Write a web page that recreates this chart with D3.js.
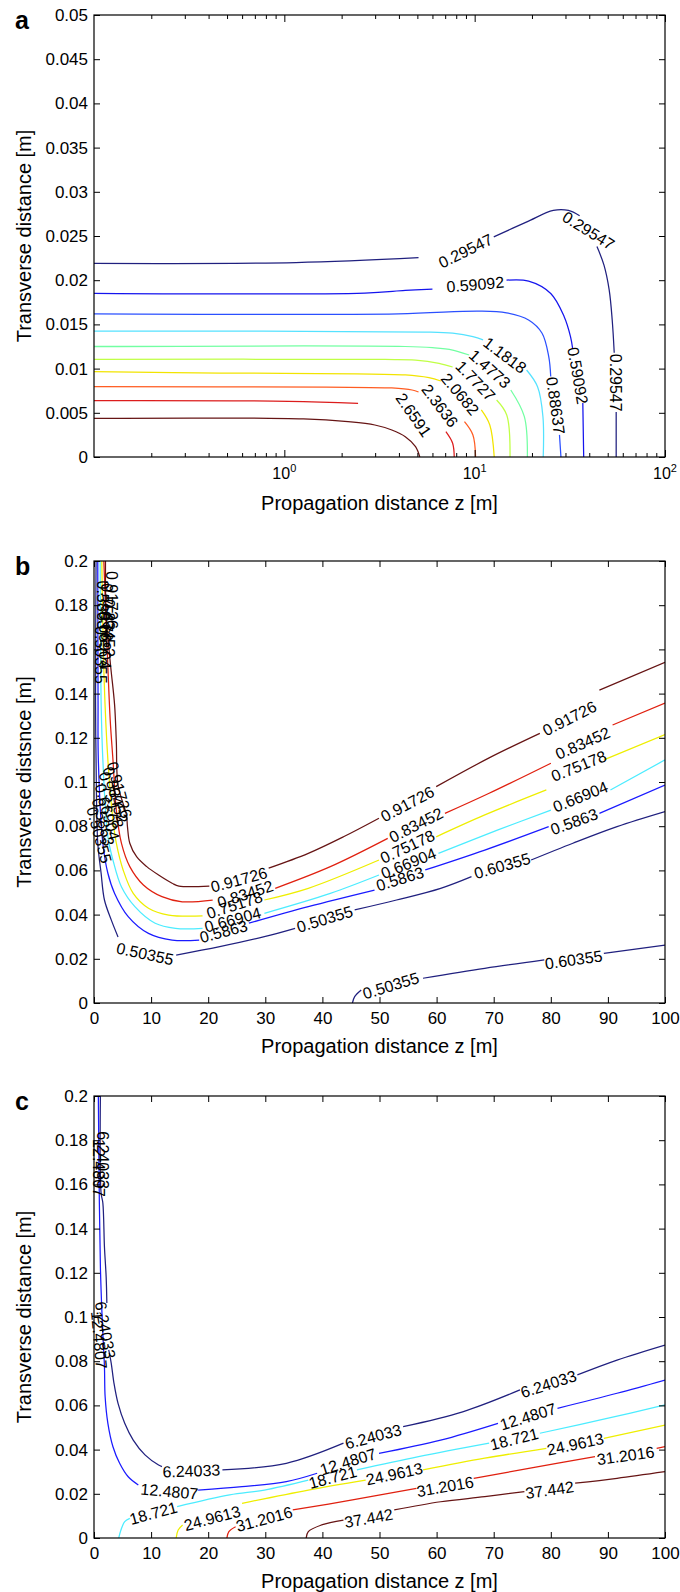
<!DOCTYPE html>
<html>
<head>
<meta charset="utf-8">
<script src="https://cdn.jsdelivr.net/npm/d3@7"></script>
<style>
  body { margin: 0; background: #fff; }
  svg text { font-family: "Liberation Sans", Arial, sans-serif; fill: #000; }
</style>
</head>
<body>
<svg id="chart" width="680" height="1592"></svg>
<script>
// ---------- panel a (log z) ----------
const levelsA = ["0.29547", "0.59092", "0.88637", "1.1818", "1.4773", "1.7727", "2.0682", "2.3636", "2.6591", "2.9545"];
// each contour: [z, y] points, null = gap left for an inline label
const contoursA = [
  [[0.1, 0.0219], [1.15, 0.0220], [5.07, 0.02255], null, [12.6, 0.0249], [18.8, 0.0266], [25.9, 0.0279], [31.1, 0.0279], [35.6, 0.0273], null,
   [43.9, 0.0238], [47.8, 0.0217], [50.9, 0.0189], [52.8, 0.0155], [54.1, 0.0118], null, [55.4, 0.0051], [55.4, 0]],
  [[0.1, 0.01852], [2.65, 0.01855], [4.32, 0.01885], [6.0, 0.0190], null, [14.7, 0.0200], [19.2, 0.0199], [25.1, 0.0185], [29.5, 0.0159],
   [31.9, 0.0136], [32.7, 0.0123], null, [37.0, 0.0061], [37.4, 0]],
  [[0.1, 0.0162], [3.97, 0.0162], [10.6, 0.0165], [14.7, 0.0163], [19.2, 0.0155], [22.6, 0.0140], [24.5, 0.01135], [25.1, 0.0091], null,
   [27.9, 0.0025], [28.4, 0]],
  [[0.1, 0.01425], [5.5, 0.01414], [7.66, 0.0140], [9.79, 0.01361], [11.07, 0.01324], null, [18.74, 0.00984], [21.4, 0.00795], [22.84, 0.00456], [22.92, 0]],
  [[0.1, 0.0125], [4.32, 0.0125], [6.0, 0.01236], [7.66, 0.0121], [9.36, 0.01154], null, [15.48, 0.00758], [18.24, 0.00456], [18.92, 0]],
  [[0.1, 0.01105], [3.38, 0.01103], [4.89, 0.01097], [6.5, 0.0106], [7.66, 0.01018], null, [13.04, 0.00645], [14.74, 0.00475], [15.34, 0]],
  [[0.1, 0.00965], [0.46, 0.0095], [4.32, 0.00928], [5.75, 0.00897], [6.64, 0.0086], null, [10.84, 0.00532], [12.01, 0.00362], [12.67, 0]],
  [[0.1, 0.00795], [1.66, 0.0079], [3.67, 0.00781], [4.69, 0.00758], [5.07, 0.00735], null, [8.84, 0.00399], [9.79, 0.00249], [10.11, 0]],
  [[0.1, 0.00637], [1.05, 0.0063], [2.44, 0.00607], null, [7.06, 0.00286], [7.66, 0.00155], [7.81, 0]],
  [[0.1, 0.00438], [1.26, 0.0043], [2.16, 0.00399], [2.99, 0.00362], [3.67, 0.00305], [4.32, 0.0023], [4.89, 0.00117], [5.15, 0]]
];
// [text, z, y, angle]
const labelsA = [
  ["0.29547", 8.97, 0.0233, -26], ["0.29547", 39.6, 0.0256, 32], ["0.29547", 54.8, 0.0084, 90],
  ["0.59092", 10.07, 0.0195, -5], ["0.59092", 34.8, 0.0092, 80],
  ["0.88637", 26.6, 0.0058, 82],
  ["1.1818", 14.4, 0.0115, 37], ["1.4773", 12.0, 0.00995, 42], ["1.7727", 10.1, 0.0086, 46],
  ["2.0682", 8.38, 0.0071, 50], ["2.3636", 6.56, 0.0058, 53], ["2.6591", 4.77, 0.00475, 55]
];
const xMajorA = [1, 10, 100];
const xMinorA = [0.2, 0.3, 0.4, 0.5, 0.6, 0.7, 0.8, 0.9, 2, 3, 4, 5, 6, 7, 8, 9, 20, 30, 40, 50, 60, 70, 80, 90];
const yTicksA = [0, 0.005, 0.01, 0.015, 0.02, 0.025, 0.03, 0.035, 0.04, 0.045, 0.05];

// ---------- panel b ----------
const levelsB = ["0.50355", "0.5863", "0.66904", "0.75178", "0.83452", "0.91726"];
const contoursB = [
  [[0.36, 0.2], [0.27, 0.137], [0.36, 0.110], [0.66, 0.0724], [1.24, 0.0588], [1.83, 0.0466], [3.02, 0.0376], [4.21, 0.0299], null,
   [14.39, 0.0217], [22.02, 0.0255], [29.84, 0.0300], [35.22, 0.0338], null, [45.65, 0.0421], [52.98, 0.0466], [60.71, 0.0519], [66.11, 0.0572], null,
   [76.55, 0.0647], [83.87, 0.0723], [91.6, 0.0798], [100, 0.0866]],
  [[0.66, 0.2], [0.71, 0.137], [0.76, 0.110], [1.55, 0.0723], [2.43, 0.0587], [3.61, 0.0496], [5.99, 0.0391], [9.54, 0.0315], [13.68, 0.0285], [18.42, 0.0285], null,
   [27.12, 0.0361], [37.53, 0.0436], [49.13, 0.0511], null, [58.01, 0.0602], [68.44, 0.0692], [79.63, 0.0798], null, [88.51, 0.0858], [100, 0.0986]],
  [[1.07, 0.2], [1.24, 0.137], [1.55, 0.110], [2.43, 0.0753], [3.32, 0.0647], [4.8, 0.0526], [7.16, 0.0436], [10.71, 0.0361], [14.26, 0.0338], [19.01, 0.0338], null,
   [29.84, 0.0406], [41.39, 0.0496], [49.91, 0.0579], null, [60.32, 0.0677], [70.75, 0.0783], [80.02, 0.0873], null, [90.44, 0.0964], [100, 0.110]],
  [[1.37, 0.2], [1.78, 0.146], [2.43, 0.110], [3.32, 0.0828], [3.91, 0.0723], [5.1, 0.0602], [6.87, 0.0496], [9.54, 0.0429], [13.09, 0.0398], [19.01, 0.0394], null,
   [29.84, 0.0466], [37.53, 0.0519], [49.91, 0.0647], null, [59.93, 0.0752], [68.44, 0.0851], [79.22, 0.0964], null, [89.29, 0.110], [100, 0.1215]],
  [[1.72, 0.2], [2.31, 0.160], [2.84, 0.128], [3.32, 0.110], [3.91, 0.0873], [4.8, 0.0723], [6.27, 0.0617], [8.65, 0.0534], [11.9, 0.0481], [15.45, 0.0458], [20.78, 0.0466], null,
   [31.74, 0.0519], [41.39, 0.0617], [51.44, 0.0745], null, [61.46, 0.0858], [69.2, 0.0949], [80.02, 0.1085], null, [90.82, 0.1258], [100, 0.1357]],
  [[2.01, 0.2], [2.13, 0.1756], [2.72, 0.1575], [3.02, 0.1498], [3.61, 0.1348], [3.91, 0.1181], [4.21, 0.0986], [5.68, 0.0851], [5.86, 0.0798], [6.27, 0.0723],
   [7.46, 0.0662], [9.24, 0.0617], [11.31, 0.0579], [13.68, 0.0542], [14.87, 0.0529], [20.2, 0.0529], null,
   [30.59, 0.061], [37.53, 0.0677], [43.69, 0.0752], [49.91, 0.0836], null, [59.93, 0.0979], [69.2, 0.1109], [78.08, 0.122], null, [88.51, 0.1416], [100, 0.1542]],
  // second branch of the lowest level, lower right
  [[45.26, 0], [45.65, 0.0029], [46.8, 0.0059], null, [57.62, 0.0112], [68.44, 0.0157], [78.86, 0.0195], null, [89.29, 0.0225], [100, 0.0262]]
];
const colorIndexB = [0, 1, 2, 3, 4, 5, 0];
const labelsB = [
  ["0.50355", 8.93, 0.0222, 12], ["0.50355", 40.4, 0.0379, -17], ["0.60355", 71.5, 0.0620, -16],
  ["0.50355", 52.0, 0.0078, -17], ["0.60355", 84.0, 0.0195, -8],
  ["0.5863", 22.7, 0.0323, -15], ["0.5863", 53.6, 0.0561, -17], ["0.5863", 84.1, 0.0820, -20],
  ["0.66904", 24.3, 0.0376, -15], ["0.66904", 55.1, 0.0632, -22], ["0.66904", 85.2, 0.0933, -22],
  ["0.75178", 24.6, 0.0443, -18], ["0.75178", 54.9, 0.0707, -25], ["0.75178", 84.9, 0.1072, -22],
  ["0.83452", 26.5, 0.0492, -18], ["0.83452", 56.4, 0.0805, -27], ["0.83452", 85.6, 0.1175, -24],
  ["0.91726", 25.4, 0.0557, -15], ["0.91726", 54.9, 0.0900, -28], ["0.91726", 83.3, 0.1288, -27],
  // crowded labels on the steep left branches
  ["0.50355", 1.07, 0.1575, 90], ["0.5863", 1.42, 0.1801, 90], ["0.66904", 1.78, 0.1643, 90],
  ["0.75178", 2.13, 0.1769, 90], ["0.83452", 2.49, 0.1697, 90], ["0.91726", 3.02, 0.1824, 90],
  ["0.50355", 0.89, 0.0760, 75], ["0.5863", 1.6, 0.0819, 75], ["0.66904", 2.31, 0.0864, 75],
  ["0.75178", 3.02, 0.0919, 75], ["0.83452", 3.73, 0.0941, 75], ["0.91726", 4.44, 0.0964, 75]
];

// ---------- panel c ----------
const levelsC = ["6.24033", "12.4807", "18.721", "24.9613", "31.2016", "37.442"];
const contoursC = [
  [[1.12, 0.2], [1.24, 0.1561], [1.55, 0.1516], [1.83, 0.1317], [2.13, 0.1181], [2.25, 0.1063], null, [2.58, 0.0851], [3.02, 0.079], [3.5, 0.07],
   [4.21, 0.0609], [5.38, 0.0519], [6.87, 0.0443], [8.93, 0.0376], [11.31, 0.033], [11.9, 0.0323], null,
   [22.49, 0.0308], [33.68, 0.0338], [43.69, 0.0429], null, [54.14, 0.0504], [64.56, 0.0571], [74.6, 0.067], null, [84.65, 0.0738], [91.6, 0.0805], [100, 0.0873]],
  [[0.76, 0.2], [0.94, 0.1516], [1.12, 0.1226], [1.37, 0.1032], [1.6, 0.0896], [1.83, 0.0775], [1.95, 0.0639], [2.43, 0.0519], [3.32, 0.0413],
   [4.49, 0.0338], [5.99, 0.0277], [7.76, 0.024], null, [18.24, 0.0217], [25.93, 0.0232], [33.68, 0.0255], [39.08, 0.0293], null,
   [49.91, 0.0383], [60.71, 0.0443], [70.75, 0.0519], null, [81.17, 0.0587], [91.6, 0.0655], [100, 0.0715]],
  [[4.33, 0], [4.72, 0.0036], [5.38, 0.0074], [6.27, 0.0089], null, [14.56, 0.0142], [23.75, 0.0195], [29.84, 0.0217], [37.53, 0.0262], null,
   [46.04, 0.0308], [56.84, 0.0368], [69.2, 0.0429], null, [78.08, 0.0474], [90.05, 0.0542], [100, 0.0602]],
  [[14.39, 0], [14.74, 0.0036], [15.52, 0.0059], null, [25.93, 0.0157], [37.53, 0.0217], [47.58, 0.0262], null,
   [57.62, 0.0308], [68.44, 0.0361], [79.22, 0.0406], null, [89.29, 0.0451], [100, 0.0511]],
  [[23.27, 0], [23.62, 0.0029], [24.8, 0.0051], null, [34.81, 0.0127], [45.26, 0.0172], [56.47, 0.0225], null,
   [66.5, 0.027], [76.15, 0.0315], [87.74, 0.0368], null, [98.54, 0.0406], [100, 0.0413]],
  [[37.16, 0], [37.53, 0.0029], [39.86, 0.0059], [43.69, 0.0081], null, [52.58, 0.0127], [60.71, 0.0164], [68.44, 0.0187], [75.38, 0.021], null,
   [84.26, 0.0248], [91.6, 0.027], [100, 0.03]]
];
const labelsC = [
  ["6.24033", 17.05, 0.0303, -2], ["6.24033", 48.9, 0.0458, -15], ["6.24033", 79.6, 0.0696, -18],
  ["12.4807", 13.2, 0.021, 5], ["12.4807", 44.5, 0.0345, -17], ["12.4807", 76.0, 0.0549, -17],
  ["18.721", 10.4, 0.0112, -15], ["18.721", 41.8, 0.0274, -15], ["18.721", 73.6, 0.0447, -14],
  ["24.9613", 20.7, 0.0089, -15], ["24.9613", 52.6, 0.0289, -12], ["24.9613", 84.3, 0.0424, -12],
  ["31.2016", 29.8, 0.0085, -15], ["31.2016", 61.5, 0.0232, -10], ["31.2016", 93.1, 0.0372, -8],
  ["37.442", 48.1, 0.0089, -10], ["37.442", 79.8, 0.0217, -8],
  ["6.24033", 1.42, 0.1710, 90], ["12.4807", 0.71, 0.1674, 90], ["6.24033", 1.95, 0.0941, 80], ["12.4807", 0.89, 0.0896, 85]
];

const xTicksBC = [0, 10, 20, 30, 40, 50, 60, 70, 80, 90, 100];
const yTicksBC = [0, 0.02, 0.04, 0.06, 0.08, 0.1, 0.12, 0.14, 0.16, 0.18, 0.2];

// colours (jet-like, as in the picture)
const jet10 = ["#20207f", "#1414ee", "#2b50ff", "#55e2ff", "#72ffa2", "#c0ff45", "#f2e400", "#ff5c22", "#dc1c1c", "#661414"];
const jet6 = ["#20207f", "#1a1aff", "#4cecff", "#eeee00", "#e0200f", "#661414"];

// ---------- layout ----------
const left = 94, right = 665, plotHeight = 442;
const fontFamily = '"Liberation Sans", Arial, sans-serif';
const svg = d3.select("#chart");

function drawPanel(p) {
  const top = p.top, bottom = top + plotHeight;
  const x = p.x.range([left, right]);
  const y = d3.scaleLinear().domain([0, p.yMax]).range([bottom, top]);
  const g = svg.append("g");

  g.append("clipPath").attr("id", p.id).append("rect")
    .attr("x", left).attr("y", top).attr("width", right - left).attr("height", plotHeight);

  const line = d3.line()
    .defined(d => d !== null)
    .x(d => x(d[0]))
    .y(d => y(d[1]))
    .curve(d3.curveCatmullRom.alpha(0.5));

  g.append("g").attr("clip-path", `url(#${p.id})`)
    .selectAll("path").data(p.contours).join("path")
    .attr("d", line)
    .attr("fill", "none")
    .attr("stroke", (d, i) => p.colors[p.colorIndex ? p.colorIndex[i] : i])
    .attr("stroke-width", 1.25);

  g.append("g").selectAll("text").data(p.labels).join("text")
    .attr("transform", d => `translate(${x(d[1])},${y(d[2])}) rotate(${d[3]})`)
    .attr("text-anchor", "middle")
    .attr("dominant-baseline", "central")
    .style("font-size", "16px")
    .text(d => d[0]);

  // y axes (left with labels, right mirrored)
  const yl = g.append("g").attr("transform", `translate(${left},0)`)
    .call(d3.axisLeft(y).tickValues(p.yTicks).tickSize(-6).tickPadding(6).tickFormat(p.yFormat));
  const yr = g.append("g").attr("transform", `translate(${right},0)`)
    .call(d3.axisRight(y).tickValues(p.yTicks).tickSize(-6).tickFormat(""));

  // x axes
  let xb, xt;
  if (p.log) {
    xb = g.append("g").attr("transform", `translate(0,${bottom})`)
      .call(d3.axisBottom(x).tickValues(p.xTicks).tickSize(-7).tickFormat(""));
    xt = g.append("g").attr("transform", `translate(0,${top})`)
      .call(d3.axisTop(x).tickValues(p.xTicks).tickSize(-7).tickFormat(""));
    [bottom, top].forEach(pos => {
      const m = g.append("g").attr("transform", `translate(0,${pos})`)
        .call((pos === bottom ? d3.axisBottom(x) : d3.axisTop(x)).tickValues(p.xMinor).tickSize(-4).tickFormat(""));
      m.select(".domain").remove();
    });
    const tl = g.append("g").selectAll("text").data(p.xTicks).join("text")
      .attr("x", d => x(d)).attr("y", bottom + 22)
      .attr("text-anchor", "middle")
      .style("font-size", "16px");
    tl.append("tspan").text("10");
    tl.append("tspan").attr("dy", -7).style("font-size", "11px").text(d => Math.round(Math.log10(d)));
  } else {
    xb = g.append("g").attr("transform", `translate(0,${bottom})`)
      .call(d3.axisBottom(x).tickValues(p.xTicks).tickSize(-6).tickPadding(9).tickFormat(d3.format("d")));
    xt = g.append("g").attr("transform", `translate(0,${top})`)
      .call(d3.axisTop(x).tickValues(p.xTicks).tickSize(-6).tickFormat(""));
  }
  [yl, yr, xb, xt].forEach(a => {
    a.select(".domain").remove();
    a.attr("font-size", 17).attr("font-family", fontFamily);
  });

  g.append("rect")
    .attr("x", left).attr("y", top).attr("width", right - left).attr("height", plotHeight)
    .attr("fill", "none").attr("stroke", "#000").attr("stroke-width", 1.2);

  g.append("text")
    .attr("x", (left + right) / 2).attr("y", bottom + p.titleGap)
    .attr("text-anchor", "middle")
    .style("font-size", "20px")
    .text("Propagation distance z [m]");

  g.append("text")
    .attr("transform", `translate(31,${top + plotHeight / 2}) rotate(-90)`)
    .attr("text-anchor", "middle")
    .style("font-size", "20px")
    .text(p.yTitle);

  g.append("text")
    .attr("x", 15).attr("y", top + 14)
    .style("font-size", "25px").style("font-weight", "bold")
    .text(p.letter);
}

drawPanel({
  id: "clipA", top: 15, letter: "a", titleGap: 53,
  x: d3.scaleLog().domain([0.1, 100]), log: true,
  xTicks: xMajorA, xMinor: xMinorA,
  yMax: 0.05, yTicks: yTicksA, yFormat: d => String(+d.toFixed(3)),
  contours: contoursA, colors: jet10, labels: labelsA,
  yTitle: "Transverse distance [m]"
});

drawPanel({
  id: "clipB", top: 561, letter: "b", titleGap: 50,
  x: d3.scaleLinear().domain([0, 100]), log: false,
  xTicks: xTicksBC,
  yMax: 0.2, yTicks: yTicksBC, yFormat: d => String(+d.toFixed(2)),
  contours: contoursB, colors: jet6, colorIndex: colorIndexB, labels: labelsB,
  yTitle: "Transverse distsnce [m]"
});

drawPanel({
  id: "clipC", top: 1096, letter: "c", titleGap: 50,
  x: d3.scaleLinear().domain([0, 100]), log: false,
  xTicks: xTicksBC,
  yMax: 0.2, yTicks: yTicksBC, yFormat: d => String(+d.toFixed(2)),
  contours: contoursC, colors: jet6, labels: labelsC,
  yTitle: "Transverse distance [m]"
});
</script>
</body>
</html>
